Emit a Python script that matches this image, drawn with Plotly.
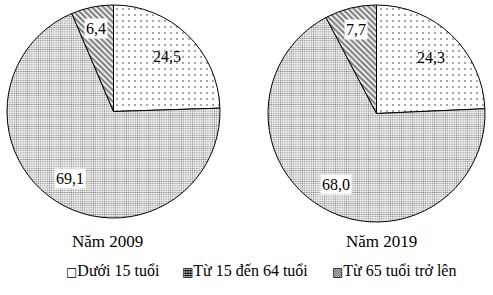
import math
import plotly.graph_objects as go

categories = ["Dưới 15 tuổi", "Từ 15 đến 64 tuổi", "Từ 65 tuổi trở lên"]
legend_icons = ["□", "▦", "▧"]
years = ["Năm 2009", "Năm 2019"]
values_2009 = [24.5, 69.1, 6.4]
values_2019 = [24.3, 68.0, 7.7]
label_text_2009 = ["24,5", "69,1", "6,4"]
label_text_2019 = ["24,3", "68,0", "7,7"]

W, H = 493, 295
FONT = "Liberation Serif"

pat_shape = [".", ".", "\\"]
pat_size = [6, 2.2, 4]
pat_solid = [0.07, 0.4, 0.55]

# pie boxes in pixels: (left, top, diameter)
boxes = [(7, 5, 213), (268, 5, 217)]
label_rfrac = [0.72, 0.75, 0.8]
label_bg = [None, "white", "white"]
year_x = [107.5, 381.5]
legend_x = [64, 180, 330]

fig = go.Figure()
annotations = []
for i, (vals, texts, year) in enumerate(zip([values_2009, values_2019], [label_text_2009, label_text_2019], years)):
    left, top, d = boxes[i]
    fig.add_trace(go.Pie(
        labels=categories, values=vals, sort=False, direction="clockwise", rotation=0,
        textinfo="none", hoverinfo="label+value",
        marker=dict(colors=["white"] * 3, line=dict(color="black", width=1),
                    pattern=dict(shape=pat_shape, size=pat_size, solidity=pat_solid,
                                 fgcolor="black", bgcolor="white", fillmode="overlay")),
        domain=dict(x=[left / W, (left + d) / W], y=[1 - (top + d) / H, 1 - top / H]),
        showlegend=False,
    ))
    cx, cy, r = left + d / 2, top + d / 2, d / 2
    total = sum(vals)
    acc = 0
    for j, v in enumerate(vals):
        mid = (acc + v / 2) / total * 2 * math.pi
        acc += v
        px = cx + label_rfrac[j] * r * math.sin(mid)
        py = cy - label_rfrac[j] * r * math.cos(mid)
        ann = dict(x=px / W, y=1 - py / H, xref="paper", yref="paper", text=texts[j],
                   showarrow=False, font=dict(family=FONT, size=16, color="black"),
                   xanchor="center", yanchor="middle", borderpad=1)
        if label_bg[j]:
            ann["bgcolor"] = label_bg[j]
        annotations.append(ann)
    annotations.append(dict(x=year_x[i] / W, y=1 - 242 / H, xref="paper", yref="paper", text=year,
                            showarrow=False, font=dict(family=FONT, size=17, color="black"),
                            xanchor="center", yanchor="middle"))

for icon, cat, lx in zip(legend_icons, categories, legend_x):
    annotations.append(dict(
        x=lx / W, y=1 - 270 / H, xref="paper", yref="paper", xanchor="left", yanchor="middle",
        text=f"<span style='font-family:DejaVu Sans;font-size:12px'>{icon}</span>{cat}",
        showarrow=False, font=dict(family=FONT, size=16, color="black")))

fig.update_layout(
    width=W, height=H, margin=dict(l=0, r=0, t=0, b=0),
    paper_bgcolor="white", plot_bgcolor="white",
    annotations=annotations, showlegend=False,
)
fig.write_html("out.html")
